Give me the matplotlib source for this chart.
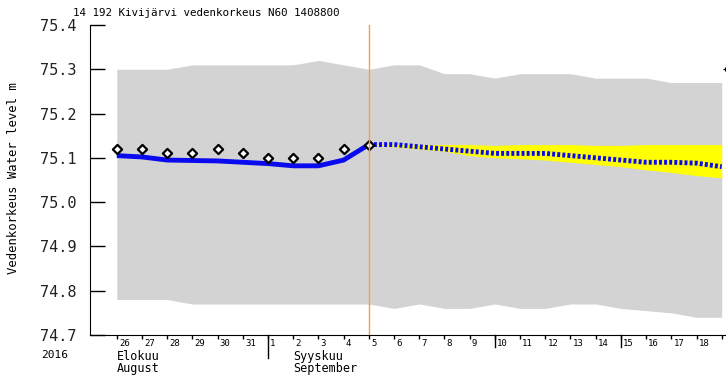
import numpy as np
import pandas as pd
import matplotlib
matplotlib.use("Agg")
from matplotlib import pyplot as plt

plt.rcParams['font.family'] = ['DejaVu Sans Mono']

# grey band: daily range, Aug 26 .. Sep 19
band_days = pd.date_range("2016-08-26", "2016-09-19", freq="D")
band_high = [75.30, 75.30, 75.30, 75.31, 75.31, 75.31, 75.31, 75.31, 75.32, 75.31,
             75.30, 75.31, 75.31, 75.29, 75.29, 75.28, 75.29, 75.29, 75.29, 75.28,
             75.28, 75.28, 75.27, 75.27, 75.27]
band_low = [74.78, 74.78, 74.78, 74.77, 74.77, 74.77, 74.77, 74.77, 74.77, 74.77,
            74.77, 74.76, 74.77, 74.76, 74.76, 74.77, 74.76, 74.76, 74.77, 74.77,
            74.76, 74.755, 74.75, 74.74, 74.74]

# observed levels, Aug 26 .. Sep 5
obs_days = pd.date_range("2016-08-26", "2016-09-05", freq="D")
observed = [75.12, 75.12, 75.11, 75.11, 75.12, 75.11, 75.10, 75.10, 75.10, 75.12, 75.13]
simulated = [75.105, 75.102, 75.095, 75.094, 75.093, 75.09, 75.087, 75.082, 75.082, 75.095, 75.13]

# forecast, Sep 5 .. Sep 19
fc_days = pd.date_range("2016-09-05", "2016-09-19", freq="D")
fc_mid = [75.13, 75.13, 75.125, 75.12, 75.115, 75.11, 75.11, 75.11, 75.105, 75.10,
          75.095, 75.09, 75.09, 75.088, 75.08]
fc_high = [75.13, 75.13, 75.13, 75.13, 75.13, 75.128, 75.13, 75.13, 75.13, 75.128,
           75.128, 75.13, 75.13, 75.13, 75.13]
fc_low = [75.13, 75.125, 75.12, 75.115, 75.105, 75.10, 75.098, 75.095, 75.09, 75.085,
          75.08, 75.073, 75.067, 75.06, 75.055]

yticks = [74.7, 74.8, 74.9, 75.0, 75.1, 75.2, 75.3, 75.4]
today = pd.Timestamp("2016-09-05")

fig = plt.figure(figsize=(7.26, 3.78), dpi=100)
ax = fig.add_axes([0.124, 0.1138, 0.876, 0.8201])

ax.fill_between(band_days, band_low, band_high, color='#d3d3d3', lw=0, zorder=1)
ax.fill_between(fc_days, fc_low, fc_high, color='#ffff00', lw=0, zorder=2)
ax.plot(obs_days, simulated, color='#0a0aee', lw=3.5, zorder=3, solid_capstyle='butt')
ax.plot(fc_days, fc_mid, color='#0a0aee', lw=3.5, ls=(0, (0.6, 0.45)), zorder=3)
ax.scatter(obs_days, observed, marker='D', s=22, facecolor='white',
           edgecolor='black', linewidth=1.6, zorder=4)
ax.axvline(today, color='#f5a040', lw=1, zorder=5)
ax.plot([pd.Timestamp("2016-09-19 03:00")], [75.30], marker='+', color='black',
        ms=3, mew=0.8, zorder=4)

start = pd.Timestamp("2016-08-25")
ax.set_xlim(start - pd.Timedelta(hours=1.5), start + pd.Timedelta(days=25.17))
ax.set_ylim(74.7, 75.4)

ax.set_yticks(yticks)
ax.set_yticklabels([f"{v:.1f}" for v in yticks], fontsize=11, color='#222222')
ax.tick_params(axis='y', direction='in', length=11, width=1, pad=10)

tick_days = pd.date_range("2016-08-26", "2016-09-19", freq="D")
ax.set_xticks(tick_days)
ax.set_xticklabels([])
ax.tick_params(axis='x', direction='out', length=3, width=1)
for d in tick_days[:-1]:
    ax.text(d + pd.Timedelta(hours=2), -0.012, str(d.day), transform=ax.get_xaxis_transform(),
            fontsize=6.5, ha='left', va='top')
for d in ["2016-09-01"]:
    ax.axvline(pd.Timestamp(d), ymin=-0.075, ymax=0, color='black', lw=1, clip_on=False)
for d in ["2016-09-10", "2016-09-15"]:
    ax.axvline(pd.Timestamp(d), ymin=-0.04, ymax=0, color='black', lw=1, clip_on=False)

xt = ax.get_xaxis_transform()
ax.text(start - pd.Timedelta(days=2.0), -0.048, "2016", transform=xt, fontsize=8, va='top')
ax.text(pd.Timestamp("2016-08-26"), -0.048, "Elokuu\nAugust", transform=xt,
        fontsize=8.5, va='top', linespacing=0.9)
ax.text(pd.Timestamp("2016-09-02"), -0.048, "Syyskuu\nSeptember", transform=xt,
        fontsize=8.5, va='top', linespacing=0.9)

ax.spines['top'].set_visible(False)
ax.spines['right'].set_visible(False)

fig.text(0.1, 0.965, "14 192 Kivijärvi vedenkorkeus N60 1408800", fontsize=7.8, va='center')
fig.text(0.018, 0.53, "Vedenkorkeus Water level m", fontsize=8.8, rotation=90,
         va='center', ha='center')

fig.savefig("out.png", dpi=100)
